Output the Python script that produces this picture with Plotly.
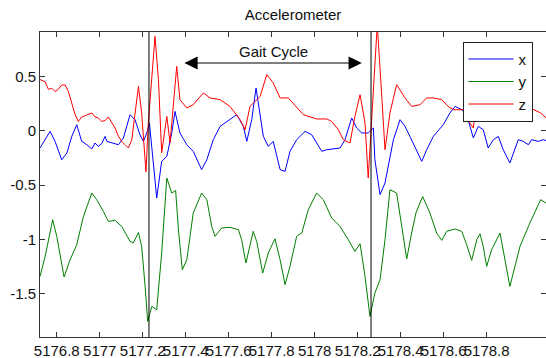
import plotly.graph_objects as go

# ---- data (time in s, acceleration) ----
t_x = [5176.722, 5176.746, 5176.769, 5176.792, 5176.823, 5176.847, 5176.870, 5176.893, 5176.916, 5176.940,
       5176.963, 5176.978, 5176.993, 5177.009, 5177.025, 5177.033, 5177.056, 5177.087, 5177.110, 5177.141,
       5177.164, 5177.187, 5177.203, 5177.219, 5177.231, 5177.249, 5177.265, 5177.288, 5177.312, 5177.335,
       5177.350, 5177.373, 5177.405, 5177.435, 5177.474, 5177.498, 5177.528, 5177.560, 5177.606, 5177.637,
       5177.668, 5177.684, 5177.707, 5177.727, 5177.761, 5177.784, 5177.807, 5177.839, 5177.862, 5177.885,
       5177.916, 5177.955, 5177.986, 5178.009, 5178.033, 5178.056, 5178.079, 5178.118, 5178.141, 5178.172,
       5178.195, 5178.219, 5178.249, 5178.273, 5178.280, 5178.304, 5178.327, 5178.342, 5178.366, 5178.397,
       5178.420, 5178.443, 5178.474, 5178.498, 5178.521, 5178.552, 5178.598, 5178.629, 5178.653, 5178.684,
       5178.707, 5178.738, 5178.761, 5178.784, 5178.807, 5178.831, 5178.854, 5178.877, 5178.908, 5178.932,
       5178.947, 5178.970, 5178.994, 5179.009, 5179.040, 5179.063, 5179.076]
acc_x = [-0.159, -0.083, -0.006, -0.098, -0.267, -0.205, -0.052, 0.055, -0.098, -0.129,
         -0.168, -0.113, -0.144, -0.119, -0.052, -0.098, -0.113, -0.129, -0.067, 0.147,
         0.101, -0.037, -0.098, -0.021, 0.071, -0.328, -0.619, -0.282, -0.236, -0.021,
         0.177, -0.021, -0.129, -0.19, -0.358, -0.267, -0.083, 0.04, 0.101, 0.147,
         0.04, -0.098, 0.101, 0.392, -0.052, -0.144, -0.098, -0.358, -0.374, -0.19,
         -0.083, -0.006, -0.037, -0.113, -0.19, -0.175, -0.168, -0.159, -0.083, 0.117,
         0.025, -0.021, -0.021, 0.025, -0.267, -0.588, -0.481, -0.328, -0.083, 0.101,
         0.04, -0.052, -0.175, -0.282, -0.175, -0.052, 0.055, 0.163, 0.223, 0.193,
         0.147, -0.067, 0.04, 0.009, -0.159, -0.083, -0.052, -0.175, -0.297, -0.175,
         -0.083, -0.098, -0.129, -0.083, -0.098, -0.083, -0.09]

t_y = [5176.722, 5176.746, 5176.781, 5176.800, 5176.834, 5176.862, 5176.893, 5176.924, 5176.963, 5176.986,
       5177.017, 5177.040, 5177.071, 5177.102, 5177.141, 5177.156, 5177.180, 5177.195, 5177.211, 5177.223,
       5177.242, 5177.265, 5177.288, 5177.312, 5177.335, 5177.353, 5177.366, 5177.384, 5177.405, 5177.435,
       5177.474, 5177.498, 5177.521, 5177.536, 5177.567, 5177.606, 5177.645, 5177.660, 5177.680, 5177.714,
       5177.730, 5177.758, 5177.784, 5177.815, 5177.839, 5177.862, 5177.885, 5177.916, 5177.940, 5177.970,
       5178.009, 5178.040, 5178.079, 5178.118, 5178.156, 5178.187, 5178.211, 5178.234, 5178.257, 5178.280,
       5178.304, 5178.327, 5178.350, 5178.381, 5178.405, 5178.428, 5178.451, 5178.471, 5178.502, 5178.536,
       5178.567, 5178.591, 5178.614, 5178.653, 5178.684, 5178.707, 5178.730, 5178.754, 5178.769, 5178.784,
       5178.800, 5178.823, 5178.862, 5178.885, 5178.908, 5178.955, 5179.001, 5179.051, 5179.076]
acc_y = [-1.339, -1.155, -0.818, -0.971, -1.345, -1.186, -1.048, -0.788, -0.573, -0.634,
         -0.742, -0.834, -0.824, -0.880, -1.017, -1.032, -0.935, -1.063, -1.431, -1.753,
         -1.615, -1.645, -1.124, -0.435, -0.573, -0.549, -0.910, -1.278, -1.186, -0.756,
         -0.573, -0.634, -0.880, -0.971, -0.894, -0.888, -0.910, -1.002, -1.216, -0.925,
         -1.017, -1.308, -1.124, -0.993, -1.186, -1.415, -1.247, -0.971, -0.940, -0.726,
         -0.573, -0.634, -0.802, -0.880, -1.002, -1.109, -1.039, -1.339, -1.707, -1.492,
         -1.369, -1.002, -0.542, -0.573, -0.880, -1.179, -0.940, -0.756, -0.604, -0.756,
         -0.940, -1.008, -0.925, -0.903, -0.925, -1.048, -1.192, -1.002, -0.947, -1.063,
         -1.247, -1.094, -0.940, -1.186, -1.431, -1.063, -0.848, -0.634, -0.665]

t_z = [5176.722, 5176.746, 5176.761, 5176.777, 5176.792, 5176.807, 5176.823, 5176.839, 5176.854, 5176.870,
       5176.885, 5176.900, 5176.916, 5176.932, 5176.947, 5176.963, 5176.978, 5176.993, 5177.009, 5177.025,
       5177.040, 5177.056, 5177.071, 5177.087, 5177.102, 5177.118, 5177.133, 5177.149, 5177.164, 5177.180,
       5177.195, 5177.206, 5177.215, 5177.226, 5177.257, 5177.273, 5177.288, 5177.312, 5177.327, 5177.358,
       5177.373, 5177.405, 5177.435, 5177.482, 5177.513, 5177.560, 5177.606, 5177.653, 5177.676, 5177.699,
       5177.746, 5177.777, 5177.807, 5177.839, 5177.877, 5177.947, 5178.009, 5178.056, 5178.079, 5178.110,
       5178.133, 5178.164, 5178.187, 5178.211, 5178.234, 5178.249, 5178.273, 5178.291, 5178.312, 5178.327,
       5178.350, 5178.381, 5178.420, 5178.451, 5178.490, 5178.521, 5178.552, 5178.591, 5178.621, 5178.645,
       5178.691, 5178.722, 5178.738, 5178.746, 5178.815, 5178.908, 5179.001, 5179.051, 5179.076]
acc_z = [0.47, 0.45, 0.38, 0.39, 0.36, 0.38, 0.42, 0.42, 0.36, 0.24,
         0.15, 0.085, 0.126, 0.138, 0.147, 0.163, 0.126, 0.117, 0.085, 0.094,
         0.126, 0.071, 0.025, -0.052, -0.099, -0.129, -0.159, -0.083, 0.147, 0.407,
         0.163, -0.144, -0.377, 0.074, 0.867, 0.469, -0.202, 0.131, -0.113, 0.591,
         0.285, 0.209, 0.239, 0.347, 0.301, 0.285, 0.223, 0.101, 0.009, 0.223,
         0.315, 0.515, 0.438, 0.301, 0.301, 0.147, 0.108, 0.108, 0.085, 0.009,
         -0.083, -0.113, 0.131, 0.331, 0.071, -0.435, 0.315, 0.974, 0.315, -0.175,
         0.163, 0.423, 0.301, 0.223, 0.239, 0.301, 0.301, 0.285, 0.223, 0.193,
         0.193, 0.071, 0.025, 0.163, 0.24, 0.28, 0.21, 0.163, 0.117]

series_names = ["x", "y", "z"]
series_colors = ["#0000ff", "#008000", "#ff0000"]

x_tickvals = [5176.8, 5177.0, 5177.2, 5177.4, 5177.6, 5177.8, 5178.0, 5178.2, 5178.4, 5178.6, 5178.8]
x_ticktext = ["5176.8", "5177", "5177.2", "5177.4", "5177.6", "5177.8", "5178", "5178.2", "5178.4", "5178.6", "5178.8"]
y_tickvals = [-1.5, -1.0, -0.5, 0.0, 0.5]
y_ticktext = ["-1.5", "-1", "-0.5", "0", "0.5"]

event_times = [5177.229, 5178.262]          # heel-strike markers
cycle_start, cycle_end, cycle_level = 5177.387, 5178.219, 0.622
cycle_label = "Gait Cycle"
cycle_label_pos = (5177.81, 0.73)

x_range = [5176.722, 5179.076]
y_range = [-1.896, 0.907]

FONT = "Arial, Liberation Sans, Helvetica, sans-serif"

fig = go.Figure()
for t, v, name, color in zip([t_x, t_y, t_z], [acc_x, acc_y, acc_z], series_names, series_colors):
    fig.add_trace(go.Scatter(x=t, y=v, mode="lines", name=name,
                             line=dict(color=color, width=1)))

for et in event_times:
    fig.add_shape(type="line", x0=et, x1=et, xref="x", y0=0, y1=1, yref="y domain",
                  line=dict(color="black", width=1))

fig.add_annotation(x=cycle_end, y=cycle_level, ax=cycle_start, ay=cycle_level,
                   xref="x", yref="y", axref="x", ayref="y", text="",
                   showarrow=True, arrowhead=2, arrowside="end+start",
                   arrowsize=2.2, arrowwidth=1.2, arrowcolor="black")
fig.add_annotation(x=cycle_label_pos[0], y=cycle_label_pos[1], text=cycle_label,
                   showarrow=False, xref="x", yref="y",
                   font=dict(family=FONT, size=15, color="#111"))

axis_common = dict(showline=True, linecolor="#333", linewidth=1, mirror="ticks",
                   ticks="inside", ticklen=5, tickcolor="#333", showgrid=False,
                   zeroline=False, tickfont=dict(family=FONT, size=15, color="#111"))

fig.update_layout(
    width=546, height=358,
    margin=dict(l=40, r=0, t=32, b=21),
    paper_bgcolor="white", plot_bgcolor="white",
    font=dict(family=FONT, size=15, color="#111"),
    title=dict(text="Accelerometer", x=0.5, xref="paper", y=1 - 15 / 358,
               yref="container", yanchor="middle", xanchor="center",
               font=dict(family=FONT, size=15, color="#111")),
    xaxis=dict(range=x_range, tickvals=x_tickvals, ticktext=x_ticktext,
               tickangle=0, **axis_common),
    yaxis=dict(range=y_range, tickvals=y_tickvals, ticktext=y_ticktext, **axis_common),
    legend=dict(x=0.835, y=0.968, xanchor="left", yanchor="top",
                bgcolor="white", bordercolor="#222", borderwidth=1,
                itemwidth=45,
                font=dict(family=FONT, size=15, color="#111")),
    showlegend=True,
)

fig.write_html("out.html", config={"displayModeBar": False},
               post_script="document.body.style.margin='0';document.body.style.overflow='hidden';")
